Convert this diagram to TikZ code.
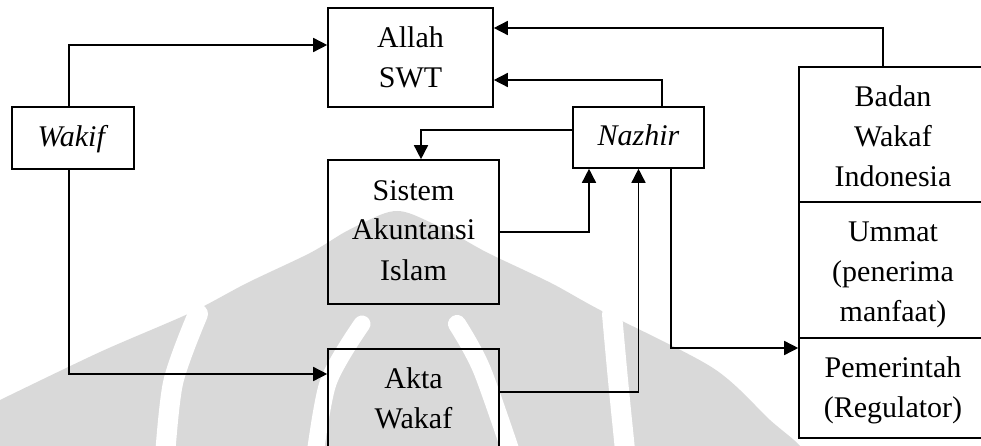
\documentclass[tikz,border=0pt]{standalone}
\usepackage{fontspec}
\setmainfont{Liberation Serif}
\usetikzlibrary{arrows.meta}
\newcommand{\mytl}[2][0pt]{\strut\raisebox{#1}{#2}}
\definecolor{wm}{RGB}{217,217,217}
\begin{document}
\begin{tikzpicture}[x=1pt,y=-1pt,
  box/.style={draw, line width=1.6pt, inner sep=0pt, align=center, font=\fontsize{30}{40}\selectfont},
  arr/.style={line width=1.5pt, -{Triangle[length=14pt,width=14pt]}},
  band/.style={white, line width=#1, line cap=round}]
\useasboundingbox (0,0) rectangle (981,446);
\clip (0,0) rectangle (981,446);
% watermark
\fill[wm] (0,470) -- plot[smooth, tension=0.5] coordinates {(0,400) (100,352) (190,313) (247,283) (310,253) (345,232) (380,215) (397,211) (414,215) (452,233) (488,253) (551,283) (600,310) (713,368) (770,420) (800,446) (812,470)} -- cycle;
\draw[band=20pt] plot[smooth] coordinates {(198,314) (173,383) (164,470)};
\draw[band=17pt] plot[smooth] coordinates {(362,324) (328,383) (313,470)};
\draw[band=18pt] plot[smooth] coordinates {(457,324) (482,370) (517,470)};
\draw[band=20pt] plot[smooth] coordinates {(612,314) (618,380) (627,470)};
% boxes
\node[box, minimum width=165pt, minimum height=99pt] (allah) at (410.5,57.5) {\mytl[-2.5pt]{Allah}\\\mytl[-2.5pt]{SWT}};
\node[box, minimum width=122pt, minimum height=62pt] (wakif) at (73,138) {\mytl[-1pt]{\textit{Wakif}}};
\node[box, minimum width=131pt, minimum height=61pt] (nazhir) at (638.5,137.5) {\mytl{\textit{Nazhir}}};
\node[box, minimum width=171pt, minimum height=144pt] (sistem) at (413.5,232) {\mytl{Sistem}\\\mytl{Akuntansi}\\\mytl{Islam}};
\node[box, minimum width=171pt, minimum height=102pt] (akta) at (413.5,400) {\mytl{Akta}\\\mytl{Wakaf}};
\node[box, minimum width=188pt, minimum height=135pt] (bwi) at (893,134.5) {\mytl[-4.5pt]{Badan}\\\mytl[-4.5pt]{Wakaf}\\\mytl[-4.5pt]{Indonesia}};
\node[box, minimum width=188pt, minimum height=136pt] (ummat) at (893,270) {\mytl[-3pt]{Ummat}\\\mytl[-3pt]{(penerima}\\\mytl[-3pt]{manfaat)}};
\node[box, minimum width=188pt, minimum height=100pt] (pem) at (893,388) {\mytl[-1pt]{Pemerintah}\\\mytl[-1pt]{(Regulator)}};
% connectors
\draw[arr] ([xshift=-4pt]wakif.north) |- ([yshift=12.5pt]allah.west);
\draw[arr] ([xshift=-4pt]wakif.south) |- ([yshift=26pt]akta.west);
\draw[arr] ([xshift=-10pt]bwi.north) |- ([yshift=29.5pt]allah.east);
\draw[arr] ([xshift=23.5pt]nazhir.north) |- ([yshift=-22.5pt]allah.east);
\draw[arr] ([yshift=7.5pt]nazhir.west) -| ([xshift=7.5pt]sistem.north);
\draw[arr] (sistem.east) -| ([xshift=-49.5pt]nazhir.south);
\draw[arr] ([yshift=8pt]akta.east) -| (nazhir.south);
\draw[arr] ([xshift=32.5pt]nazhir.south) |- ([yshift=40pt]pem.west);
\end{tikzpicture}
\end{document}
